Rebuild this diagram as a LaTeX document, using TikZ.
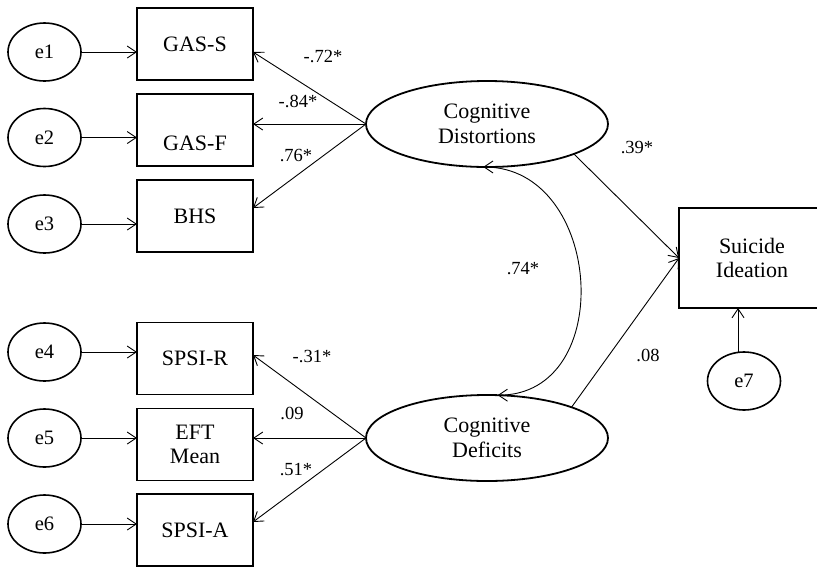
\documentclass[tikz,border=0pt]{standalone}
\usepackage{fontspec}
\setmainfont{Liberation Serif}
\usetikzlibrary{arrows.meta,shapes.geometric}
\begin{document}
\begin{tikzpicture}[x=1pt,y=-1pt,
  every node/.style={inner sep=0pt,outer sep=0pt},
  txt/.style={font=\fontsize{22}{24.5}\selectfont},
  obs/.style={draw,line width=1.8pt,rectangle,minimum width=116pt,minimum height=72pt,align=center,txt},
  errv/.style={draw,ellipse,line width=1.6pt,minimum width=73pt,minimum height=58pt,font=\fontsize{20.5}{24}\selectfont},
  lat/.style={draw,ellipse,line width=1.8pt,minimum width=242pt,minimum height=86pt,align=center,txt},
  tip/.tip={Straight Barb[length=9pt,width=12pt,line width=0.9pt]},
  conn/.style={line width=0.9pt,-tip},
  cov/.style={line width=0.9pt,tip-tip},
  lbl/.style={font=\fontsize{18.5}{20}\selectfont}
]
\useasboundingbox (0,0) rectangle (817,566);
\clip (0,0) rectangle (817,566);
% observed boxes
\node[obs] (gass) at (195,44) {GAS-S};
\node[obs,label={[txt,yshift=-13pt]center:GAS-F}] (gasf) at (195,130) {};
\node[obs] (bhs) at (195,216) {BHS};
\node[obs] (spsir) at (195,358.5) {SPSI-R};
\node[obs] (eft) at (195,444.5) {EFT\\Mean};
\node[obs] (spsia) at (195,530) {SPSI-A};
\node[obs,minimum width=146pt,minimum height=100pt] (si) at (752,258) {Suicide\\Ideation};
% error terms
\node[errv] (e1) at (44.5,52) {e1};
\node[errv] (e2) at (44.5,137.5) {e2};
\node[errv] (e3) at (44.5,224) {e3};
\node[errv] (e4) at (44.5,352) {e4};
\node[errv] (e5) at (44.5,438) {e5};
\node[errv] (e6) at (44.5,524) {e6};
\node[errv] (e7) at (744,381) {e7};
% latent
\node[lat] (cdist) at (487,124) {Cognitive\\Distortions};
\node[lat] (cdef) at (487,438) {Cognitive\\Deficits};
% error arrows
\draw[conn] (e1.east) -- (e1.east -| gass.west);
\draw[conn] (e2.east) -- (e2.east -| gasf.west);
\draw[conn] (e3.east) -- (e3.east -| bhs.west);
\draw[conn] (e4.east) -- (e4.east -| spsir.west);
\draw[conn] (e5.east) -- (e5.east -| eft.west);
\draw[conn] (e6.east) -- (e6.east -| spsia.west);
\coordinate (e7top) at ([xshift=-6pt]e7.north);
\draw[conn] (e7top) -- (e7top |- si.south);
% loadings
\draw[conn] (cdist.west) -- ([yshift=-8pt]gass.east);
\draw[conn] (cdist.west) -- ([yshift=6pt]gasf.east);
\draw[conn] (cdist.west) -- ([yshift=8pt]bhs.east);
\draw[conn] (cdef.west) -- ([yshift=3.5pt]spsir.east);
\draw[conn] (cdef.west) -- ([yshift=6.5pt]eft.east);
\draw[conn] (cdef.west) -- ([yshift=8pt]spsia.east);
% structural paths
\draw[conn] (cdist.-19) -- (si.west);
\draw[conn] (cdef.20) -- (si.west);
% covariance
\draw[cov] (cdist.-95) .. controls +(120,0) and +(120,0) .. (cdef.76);
% labels
\node[lbl] (l1) at (323,57) {-.72*};
\node[lbl] (l2) at (298,101) {-.84*};
\node[lbl] (l3) at (296,155) {.76*};
\node[lbl] (l4) at (312,356) {-.31*};
\node[lbl] (l5) at (292,413) {.09};
\node[lbl] (l6) at (296,470) {.51*};
\node[lbl] (l7) at (637,147) {.39*};
\node[lbl] (l8) at (523,269) {.74*};
\node[lbl] (l9) at (648,355) {.08};
\end{tikzpicture}
\end{document}
